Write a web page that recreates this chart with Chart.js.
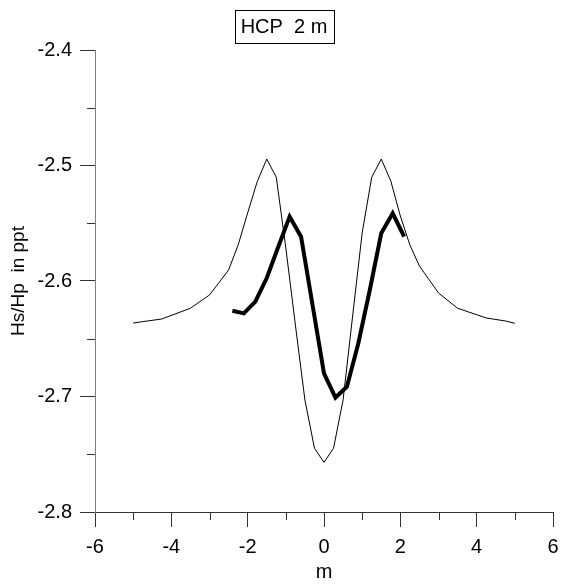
<!DOCTYPE html>
<html>
<head>
<meta charset="utf-8">
<script src="https://cdn.jsdelivr.net/npm/chart.js@4.4.1/dist/chart.umd.min.js"></script>
<style>
  html, body { margin: 0; padding: 0; background: #fff; }
  #wrap { width: 564px; height: 584px; position: relative; }
</style>
</head>
<body>
<div id="wrap"><canvas id="hcpChart"></canvas></div>
<script>
// --- DATA ---
const titleText = 'HCP  2 m';
const xTitle = 'm';
const yTitle = 'Hs/Hp  in ppt';

// thin curve (model)
const thinX = [-5, -4.75, -4.25, -3.5, -3, -2.5, -2.25, -2, -1.75, -1.5, -1.25, -1, -0.75, -0.5, -0.25,
  0, 0.25, 0.5, 0.75, 1, 1.25, 1.5, 1.75, 2, 2.25, 2.5, 3, 3.5, 4.25, 4.75, 5];
const thinY = [-2.6364, -2.6352, -2.6329, -2.6236, -2.6121, -2.5905, -2.5688, -2.5411, -2.5140, -2.4944, -2.5102,
  -2.5714, -2.6381, -2.7030, -2.7448, -2.7570, -2.7448, -2.7030, -2.6303, -2.5584, -2.5102, -2.4944, -2.5134,
  -2.5437, -2.5688, -2.5870, -2.6104, -2.6236, -2.6320, -2.6346, -2.6366];

// thick curve (measured)
const thickX = [-2.4, -2.1, -1.8, -1.5, -1.2, -0.9, -0.6, -0.3, 0, 0.3, 0.6, 0.9, 1.2, 1.5, 1.8, 2.1];
const thickY = [-2.6257, -2.6280, -2.6179, -2.5974, -2.5706, -2.5443, -2.5616, -2.6208, -2.6799, -2.7009,
  -2.6915, -2.6539, -2.6078, -2.5587, -2.5414, -2.5616];

// axes
const xMin = -6, xMax = 6, xStep = 2;
const yMin = -2.8, yMax = -2.4, yStep = 0.1;
const xMinorTicks = [-5, -3, -1, 1, 3, 5];
const yMinorTicks = [-2.75, -2.65, -2.55, -2.45];

const FONT = "'Liberation Sans', Arial, sans-serif";
const AXIS_DARK = '#333';

const toPoints = (xs, ys) => xs.map((x, i) => ({ x, y: ys[i] }));

// --- PLUGINS ---
const minorTicks = {
  id: 'minorTicks',
  afterDraw(chart) {
    const { ctx, scales: { x, y } } = chart;
    ctx.save();
    ctx.strokeStyle = AXIS_DARK;
    ctx.lineWidth = 1;
    ctx.beginPath();
    xMinorTicks.forEach((v) => {
      const px = Math.round(x.getPixelForValue(v)) + 0.5;
      ctx.moveTo(px, y.bottom);
      ctx.lineTo(px, y.bottom + 8);
    });
    yMinorTicks.forEach((v) => {
      const py = Math.round(y.getPixelForValue(v)) + 0.5;
      ctx.moveTo(x.left - 8, py);
      ctx.lineTo(x.left, py);
    });
    ctx.stroke();
    ctx.restore();
  },
};

const boxedTitle = {
  id: 'boxedTitle',
  afterDraw(chart) {
    const { ctx } = chart;
    ctx.save();
    ctx.font = `20px ${FONT}`;
    ctx.fillStyle = '#000';
    ctx.textAlign = 'center';
    ctx.textBaseline = 'middle';
    const cx = chart.width / 2 + 2;
    const cy = 27;
    ctx.fillText(titleText, cx, cy);
    const w = ctx.measureText(titleText).width + 12;
    ctx.strokeStyle = '#000';
    ctx.lineWidth = 1;
    ctx.strokeRect(Math.round(cx - w / 2) + 0.5, 10.5, Math.round(w), 33);
    ctx.restore();
  },
};

// --- CHART ---
new Chart(document.getElementById('hcpChart'), {
  type: 'scatter',
  data: {
    datasets: [
      {
        label: 'model',
        data: toPoints(thinX, thinY),
        showLine: true,
        borderColor: '#000',
        borderWidth: 1,
        pointRadius: 0,
        tension: 0,
      },
      {
        label: 'measured',
        data: toPoints(thickX, thickY),
        showLine: true,
        borderColor: '#000',
        borderWidth: 4,
        pointRadius: 0,
        tension: 0,
        borderJoinStyle: 'miter',
      },
    ],
  },
  options: {
    responsive: true,
    maintainAspectRatio: false,
    animation: false,
    layout: { padding: { top: 50, right: 11, left: 0, bottom: 0 } },
    plugins: {
      legend: { display: false },
      tooltip: { enabled: false },
    },
    scales: {
      x: {
        type: 'linear',
        min: xMin,
        max: xMax,
        afterFit: (s) => { s.height = 72; s.paddingRight = 0; s.paddingLeft = 0; },
        ticks: {
          stepSize: xStep,
          color: '#000',
          padding: 8,
          font: { family: FONT, size: 20 },
          maxRotation: 0,
        },
        grid: { drawOnChartArea: false, drawTicks: true, tickLength: 15, tickColor: AXIS_DARK },
        border: { color: AXIS_DARK, width: 1 },
        title: { display: true, text: xTitle, color: '#000', font: { family: FONT, size: 20 }, padding: 0 },
      },
      y: {
        type: 'linear',
        min: yMin,
        max: yMax,
        afterFit: (s) => { s.width = 95; },
        ticks: {
          stepSize: yStep,
          color: '#000',
          padding: 8,
          font: { family: FONT, size: 20 },
          callback: (v) => Number(v).toFixed(1),
        },
        grid: { drawOnChartArea: false, drawTicks: true, tickLength: 15, tickColor: AXIS_DARK },
        border: { color: '#808080', width: 1 },
        title: { display: true, text: yTitle, color: '#000', font: { family: FONT, size: 19 }, padding: 7 },
      },
    },
  },
  plugins: [minorTicks, boxedTitle],
});
</script>
</body>
</html>
